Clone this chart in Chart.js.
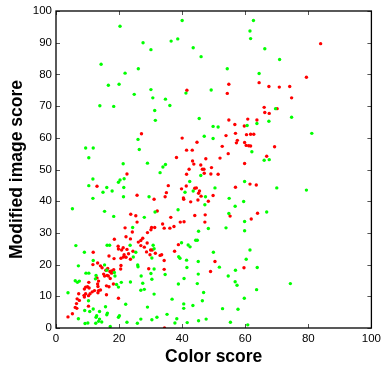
<!DOCTYPE html>
<html>
<head>
<meta charset="utf-8">
<script src="https://cdn.jsdelivr.net/npm/chart.js@4/dist/chart.umd.min.js"></script>
<style>
html,body{margin:0;padding:0;background:#fff;}
#wrap{width:385px;height:366px;}
</style>
</head>
<body>
<div id="wrap"><canvas id="c" width="385" height="366"></canvas></div>
<script>
const xTitle = "Color score";
const yTitle = "Modified image score";
const xTickValues = [0, 20, 40, 60, 80, 100];
const yTickValues = [0, 10, 20, 30, 40, 50, 60, 70, 80, 90, 100];

const greenPoints = [
[20.3,95.2],[40,97],[62.6,97],[61.5,93.7],[61.7,91.3],[38.6,91.2],[36.5,90.5],[27.6,90],[30.1,87.8],[43.5,88.4],
[66.2,88.1],[46,85.6],[70.9,84.7],[14.3,83.2],[54.3,81.8],[26.1,81.8],[21.9,80.4],[64.4,80.3],[16.6,76.6],[20,76.9],
[30.1,75.2],[49.2,75.1],[41.2,74.1],[24.8,73.7],[30.7,72.6],[34.7,72.2],[13.9,70.1],[18.3,69.9],[36.1,70.2],[31.3,68.6],
[69.6,69.2],[31.5,65.5],[74.7,66.5],[45.4,66.1],[67.5,65.2],[63.7,64.5],[49.8,63.6],[51.4,63.4],[60.6,63.9],[47,60.5],
[49.8,59.8],[26,59.5],[81.1,61.4],[9.4,56.8],[11.8,56.8],[26.4,56.3],[62.1,55.6],[10.4,53.7],[66,52.9],[67.6,53.1],
[29,52],[21.3,51.8],[34.7,51.6],[33.9,50.8],[45.9,48.1],[33,49],[11.7,47],[21.6,47.1],[20.3,46.7],[19.8,46],
[59.8,46.2],[42.4,46.2],[10.4,44.9],[16.1,44.3],[21.5,44.3],[50.4,44.2],[70,44.2],[79.4,43.5],[14.9,42.8],[17.8,43.2],
[40.9,42.8],[43.5,43.2],[21.4,41.4],[29.5,41.4],[47.4,41.4],[11.7,40.9],[54.9,40.9],[47.2,38.9],[56.8,38.4],[59.5,39.9],
[5.2,37.6],[15.4,36.8],[38.7,37.3],[31.4,36.6],[54.8,36.1],[66.8,36.6],[18.3,35.2],[28,34.9],[59.8,33.6],[59.8,30.7],
[53.9,31.6],[48.3,31.4],[24.3,31.7],[45.2,30.5],[44.3,27.7],[44.8,27.7],[39.8,26.9],[41.9,26.2],[42.5,25.6],[6.3,26],
[16.2,26.1],[17,26.1],[23.5,26.1],[30.8,26.1],[9,23.9],[25.3,23.9],[49.9,23.9],[61.5,24.6],[31.1,25],[24.5,22.4],
[30.4,22.1],[38.9,22.5],[39.3,22],[7.1,19.6],[25.9,19.9],[26,19.3],[41.4,21.4],[45.1,21],[60.3,21.7],[15.4,19.9],
[11.8,21.3],[16.1,18.2],[41.5,19.1],[51.8,19.2],[63.8,19.1],[18.7,16.4],[54.6,16.4],[56.9,18.2],[18.5,17.5],[9.5,17.3],
[10.4,17.3],[12.7,16.6],[30.1,17.2],[34.6,16.9],[45.1,17],[31.1,18.6],[27,16.4],[12.5,15.5],[6.1,14.9],[7.4,14.8],
[20.7,14.4],[23.6,14.5],[30.4,15.4],[40.6,15.6],[44.8,14],[56.8,14.6],[57.4,13.5],[74.3,14],[6.8,14.4],[19.2,13.7],
[27.5,14.1],[38.8,13.9],[19.8,12.9],[3.8,11.1],[28,12.2],[46.8,11.2],[63.6,12.1],[26.9,11.9],[31.1,10.7],[36.8,9.1],
[59.7,9.4],[46.4,8.6],[29,6.6],[40.5,7.6],[43.4,7.1],[10.3,8.6],[22.1,7.5],[15.7,6.7],[10.7,5.2],[11.8,6],
[13.8,5.2],[40.5,6.2],[52.8,6.1],[57.7,5.9],[9.1,5.5],[16.3,4.7],[16.1,4.2],[35.2,4.3],[20.1,3.9],[12.9,3.9],
[12.7,3.4],[19.8,3.4],[32,3.4],[13.8,2.8],[7.1,2.9],[26.9,2.8],[38.3,2.9],[30.4,2.6],[47.6,2.8],[45.2,2.3],
[14.5,1.9],[13.5,2.1],[12.6,1.5],[10.1,1.6],[9.2,1.4],[22.5,1.8],[25.8,1.5],[37.7,1.6],[41.6,1.7],[55.3,1.8],
[60.8,1],[17.2,0.5]
];

const redPoints = [
[83.9,89.7],[79.4,79.1],[74.1,76.2],[67.5,76.2],[70.8,76],[64.4,77.4],[54.8,76.9],[41.5,75],[54.3,74],[74.7,72.6],
[66,69.6],[70.1,69.2],[66.2,68],[67.6,67.7],[60.8,65.9],[63.7,65.6],[54.8,65.6],[56.7,64.2],[59.7,63.7],[27.1,61.3],
[53.9,60.7],[56.9,61.4],[60.4,61],[61.7,61.1],[62.7,61.1],[57.5,59.2],[57.2,58.4],[40,59.9],[44.7,58.6],[59.8,58.5],
[60.3,57.6],[61.7,57.4],[61.1,57.5],[52.7,57.3],[69.3,57.2],[41.4,56.1],[43.2,56.1],[54.6,55],[52,53.6],[66.8,54.2],
[38.2,53.8],[47.5,53.4],[59.8,51.9],[43.3,52.7],[43.7,51.7],[45.9,51.4],[42.2,50.1],[46.4,50.1],[46.9,50.1],[49.3,50.6],
[41.4,48.5],[47,48.8],[49.1,48.6],[51.4,48.5],[22.5,48.6],[35.6,44.9],[41.3,44.8],[56.9,44.4],[61.5,45.4],[63.5,45.1],
[13,44.7],[39.8,43.9],[44.5,44.2],[45.5,43.2],[45.2,42.5],[44,44.1],[35,42.7],[25.7,41.9],[40.4,41],[40.5,40.6],
[46,41.6],[49.8,41.8],[34.6,41.4],[31.1,40.6],[45,40.4],[42.7,39.8],[48.3,40],[32.1,36.9],[63.9,36.2],[55.2,35.3],
[44,35.5],[47.3,35.7],[36.4,34.9],[61.9,34.4],[23.7,35.9],[25.3,35.4],[47.2,33.4],[39.4,33.4],[40.6,33.5],[25.7,33.4],
[33.8,32.8],[34.3,31.5],[36.1,31.5],[37.4,32],[30.3,31.7],[31.3,31.7],[30.1,31],[21.9,31.6],[29,30.1],[24.2,30.3],
[22.2,28.8],[27.5,28.3],[18.5,28],[23.6,28.1],[26.9,27.6],[26.1,27.1],[28.9,26.8],[26.9,26],[38.8,26.3],[28,25.5],
[19.7,25.8],[19.8,24.9],[21.3,25.3],[22.5,24.8],[20.8,24.6],[30,24.6],[30.5,24.6],[24.4,24.2],[28.7,24],[37.6,24.2],
[11.8,23.9],[23,23.4],[21.6,23.1],[31.5,23.6],[29.8,23.1],[33.5,23.1],[33,22.9],[21.4,22.4],[16.8,22.7],[22.2,22.3],
[20.6,22],[23.6,21.7],[18.4,21.9],[34.3,21.3],[11.7,20],[13.2,20.5],[14.1,19.6],[14.6,19],[20.6,19.7],[18.3,18.4],
[17.6,18],[17.1,17.8],[16.4,18.8],[20.5,18.6],[17.6,17.3],[15.8,18.2],[29.4,18.7],[34.3,18.5],[50.4,21],[59.6,19],
[49,17.8],[15.1,17],[16.2,16.6],[15.4,16.4],[16.6,16.4],[13,15.8],[17.2,15.6],[13.5,14.8],[10.4,14.4],[13.2,13.9],
[18.2,13.9],[10,13],[9.4,12.9],[10.5,12.6],[16,13.3],[13.3,13.1],[16.8,13],[9,12.3],[12.2,11.8],[13.5,11.8],
[11.5,11.4],[14.1,12],[13.3,11.1],[9.4,10.8],[7.2,10.8],[16,10.5],[10.8,10.8],[8.9,10.3],[10.3,10.2],[9,9.8],
[6.7,9.2],[7.4,8.7],[6.5,7.7],[10.3,6.9],[6.1,6.5],[6.6,6.2],[19.8,9.4],[5.2,4.5],[3.8,3.5],[34.4,0]
];

const toXY = p => ({x: p[0], y: p[1]});

const boxTicks = {
  id: 'boxTicks',
  afterDraw(chart) {
    const {ctx, chartArea: a, scales} = chart;
    const xs = scales.x, ys = scales.y;
    const L = 4;
    ctx.save();
    ctx.strokeStyle = '#555';
    ctx.lineWidth = 1;
    ctx.beginPath();
    xTickValues.forEach(v => {
      const px = Math.round(xs.getPixelForValue(v)) + 0.5;
      ctx.moveTo(px, a.bottom); ctx.lineTo(px, a.bottom - L);
      ctx.moveTo(px, a.top); ctx.lineTo(px, a.top + L);
    });
    yTickValues.forEach(v => {
      const py = Math.round(ys.getPixelForValue(v)) + 0.5;
      ctx.moveTo(a.left, py); ctx.lineTo(a.left + L, py);
      ctx.moveTo(a.right, py); ctx.lineTo(a.right - L, py);
    });
    ctx.stroke();
    ctx.strokeStyle = '#000';
    ctx.lineWidth = 1.3;
    ctx.strokeRect(a.left, a.top, a.right - a.left, a.bottom - a.top);
    ctx.restore();
  }
};

new Chart(document.getElementById('c'), {
  type: 'scatter',
  data: {
    datasets: [
      {label: 'green', data: greenPoints.map(toXY), backgroundColor: '#00ff00', borderWidth: 0, pointRadius: 1.7, pointHoverRadius: 1.7},
      {label: 'red', data: redPoints.map(toXY), backgroundColor: '#ff0000', borderWidth: 0, pointRadius: 1.7, pointHoverRadius: 1.7}
    ]
  },
  options: {
    responsive: false,
    animation: false,
    layout: {padding: {left: 0, right: 10, top: 11, bottom: 0}},
    plugins: {legend: {display: false}, tooltip: {enabled: false}},
    scales: {
      x: {
        type: 'linear', min: 0, max: 100,
        grid: {display: false, drawTicks: false},
        border: {display: false},
        afterBuildTicks: s => { s.ticks = xTickValues.map(v => ({value: v})); },
        afterFit: s => { s.height = 38; },
        ticks: {padding: 4, color: '#000', font: {family: 'Liberation Sans', size: 11.5}, maxRotation: 0},
        title: {display: true, text: xTitle, color: '#000', padding: 0,
          font: {family: 'Liberation Sans', size: 17.5, weight: 'bold', lineHeight: 1}}
      },
      y: {
        type: 'linear', min: 0, max: 100,
        grid: {display: false, drawTicks: false},
        border: {display: false},
        afterBuildTicks: s => { s.ticks = yTickValues.map(v => ({value: v})); },
        afterFit: s => { s.width = 56; },
        ticks: {padding: 4, color: '#000', font: {family: 'Liberation Sans', size: 11.5}},
        title: {display: true, text: yTitle, color: '#000', padding: {top: 8, bottom: 0},
          font: {family: 'Liberation Sans', size: 17.5, weight: 'bold', lineHeight: 1}}
      }
    }
  },
  plugins: [boxTicks]
});
</script>
</body>
</html>
